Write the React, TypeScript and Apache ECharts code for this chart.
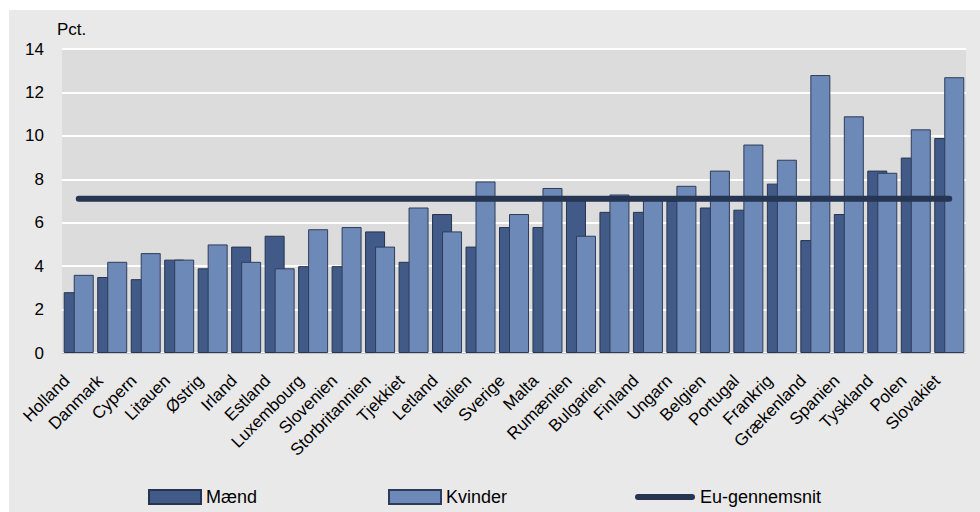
import React, { useEffect, useRef } from "react";
import * as echarts from "echarts";

const categories = [
  "Holland", "Danmark", "Cypern", "Litauen", "Østrig", "Irland", "Estland",
  "Luxembourg", "Slovenien", "Storbritannien", "Tjekkiet", "Letland", "Italien",
  "Sverige", "Malta", "Rumænien", "Bulgarien", "Finland", "Ungarn", "Belgien",
  "Portugal", "Frankrig", "Grækenland", "Spanien", "Tyskland", "Polen", "Slovakiet",
];
const maend = [2.8, 3.5, 3.4, 4.3, 3.9, 4.9, 5.4, 4.0, 4.0, 5.6, 4.2, 6.4, 4.9, 5.8, 5.8, 7.2, 6.5, 6.5, 7.0, 6.7, 6.6, 7.8, 5.2, 6.4, 8.4, 9.0, 9.9];
const kvinder = [3.6, 4.2, 4.6, 4.3, 5.0, 4.2, 3.9, 5.7, 5.8, 4.9, 6.7, 5.6, 7.9, 6.4, 7.6, 5.4, 7.3, 7.1, 7.7, 8.4, 9.6, 8.9, 12.8, 10.9, 8.3, 10.3, 12.7];
const euAvg = 7.1;
const yTicks = { min: 0, max: 14, interval: 2 };
const seriesNames = ["Mænd", "Kvinder", "Eu-gennemsnit"];

const FONT = "'Liberation Sans', Arial, sans-serif";

export default function App() {
  const ref = useRef<HTMLDivElement>(null);
  useEffect(() => {
    document.body.style.margin = "0";
    if (!ref.current) return;
    const chart = echarts.init(ref.current, null, { renderer: "svg" });
    chart.setOption({
      animation: false,
      textStyle: { fontFamily: FONT },
      graphic: [
        {
          type: "rect",
          z: -10,
          shape: { x: 9, y: 10, width: 971, height: 502 },
          style: { fill: "#e9e9e9" },
        },
        {
          type: "text",
          left: 57,
          top: 21,
          style: { text: "Pct.", fontSize: 17, fontFamily: FONT, fill: "#000" },
        },
      ],
      grid: {
        left: 62,
        right: 14,
        top: 49,
        bottom: 159,
        show: true,
        backgroundColor: "#dcdcdc",
        borderWidth: 0,
        containLabel: false,
      },
      legend: [
        {
          data: [seriesNames[0]],
          left: 143,
          top: 483,
          icon: "rect",
          itemWidth: 52,
          itemHeight: 14,
          textStyle: { fontSize: 18, color: "#000", fontFamily: FONT },
        },
        {
          data: [seriesNames[1]],
          left: 383,
          top: 483,
          icon: "rect",
          itemWidth: 52,
          itemHeight: 14,
          textStyle: { fontSize: 18, color: "#000", fontFamily: FONT },
        },
        {
          data: [seriesNames[2]],
          left: 630,
          top: 483,
          itemWidth: 60,
          itemHeight: 7,
          icon: "path://M3,0 L57,0 A3,3 0 0 1 57,6 L3,6 A3,3 0 0 1 3,0 Z",
          textStyle: { fontSize: 18, color: "#000", fontFamily: FONT },
        },
      ],
      xAxis: {
        type: "category",
        data: categories,
        boundaryGap: true,
        axisTick: { show: false },
        axisLine: { show: true, lineStyle: { color: "#c4c4c4", width: 1 } },
        axisLabel: {
          interval: 0,
          rotate: 45,
          fontSize: 17,
          color: "#000",
          margin: 13,
          padding: [0, 17, 0, 0],
          fontFamily: FONT,
        },
      },
      yAxis: {
        type: "value",
        min: yTicks.min,
        max: yTicks.max,
        interval: yTicks.interval,
        axisLine: { show: false },
        axisTick: { show: false },
        splitLine: { show: true, lineStyle: { color: "#ffffff", width: 2 } },
        axisLabel: { fontSize: 17, color: "#000", margin: 18, fontFamily: FONT },
      },
      series: [
        {
          name: seriesNames[0],
          type: "bar",
          data: maend,
          barWidth: 20,
          barGap: "-50%",
          itemStyle: { color: "#415a88", borderColor: "#27344f", borderWidth: 1 },
        },
        {
          name: seriesNames[1],
          type: "bar",
          data: kvinder,
          barWidth: 20,
          barGap: "-50%",
          itemStyle: { color: "#6d89b7", borderColor: "#2e3c5a", borderWidth: 1 },
        },
        {
          name: seriesNames[2],
          type: "line",
          data: categories.map(() => euAvg),
          symbol: "none",
          z: 5,
          itemStyle: { color: "#263552" },
          lineStyle: { color: "#263552", width: 6, cap: "round" },
        },
      ],
    });
    return () => chart.dispose();
  }, []);
  return <div ref={ref} style={{ width: 980, height: 512 }} />;
}
